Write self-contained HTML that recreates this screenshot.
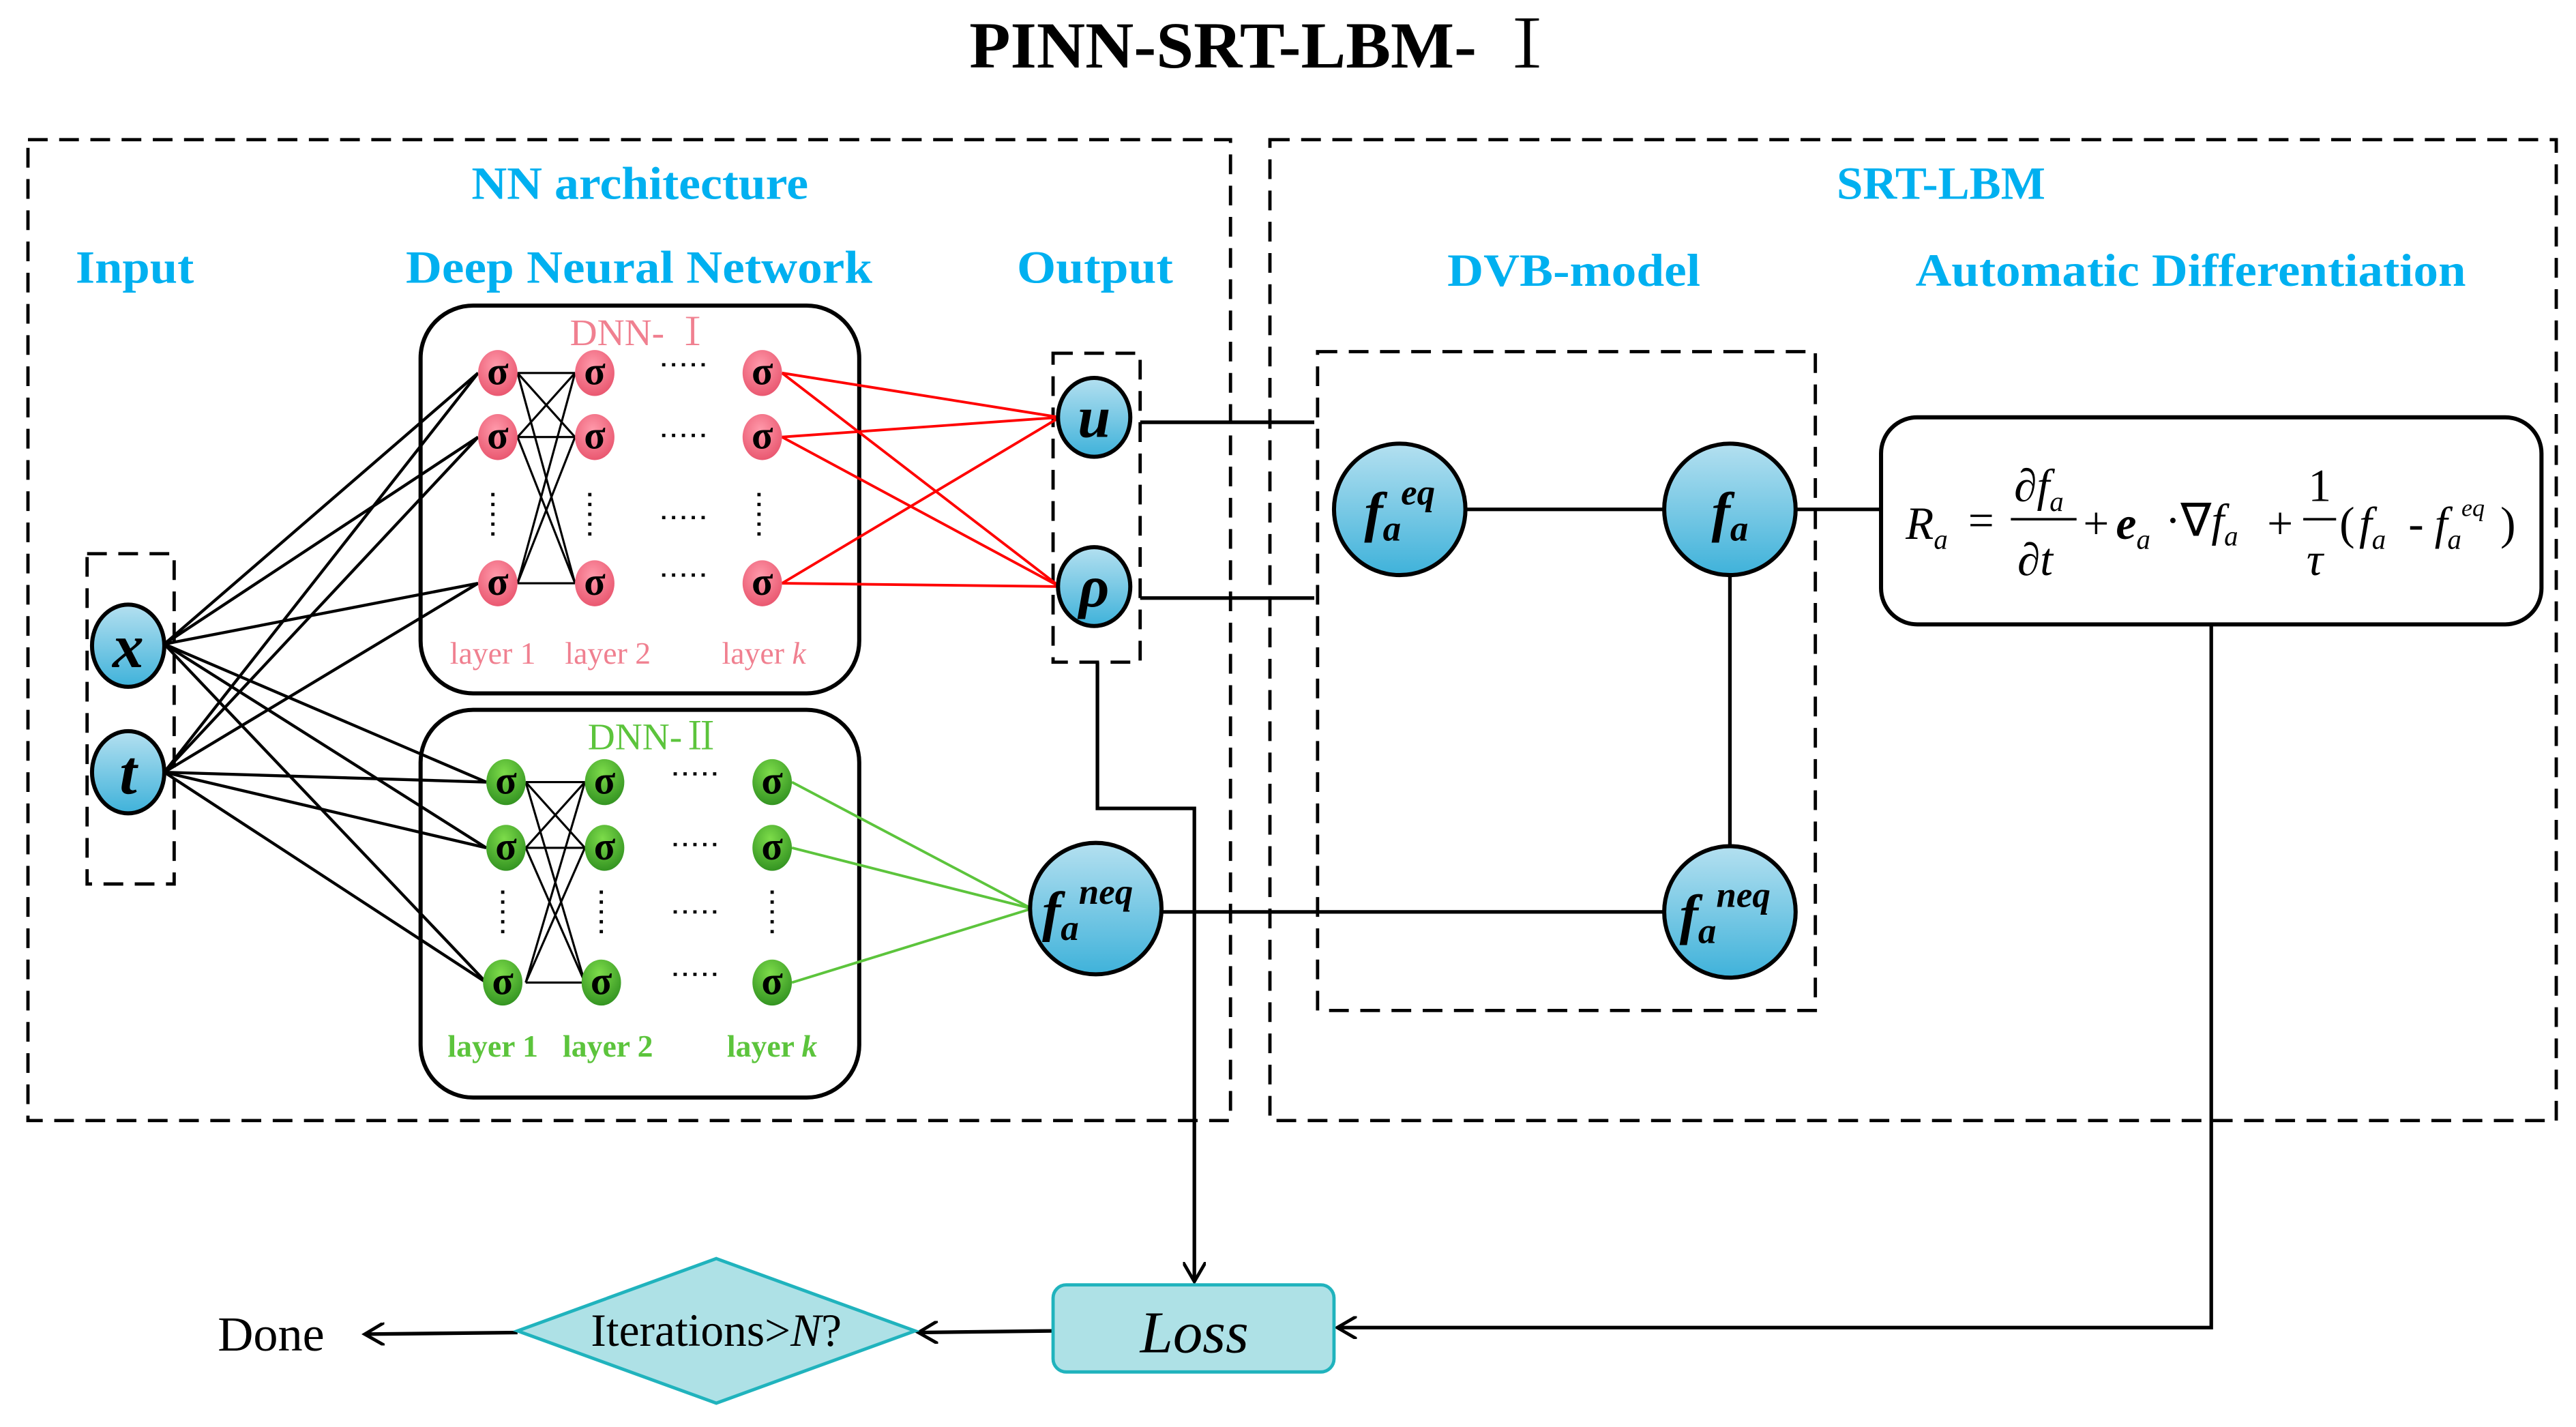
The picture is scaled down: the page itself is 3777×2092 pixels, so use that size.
<!DOCTYPE html>
<html><head><meta charset="utf-8"><style>html,body{margin:0;padding:0;background:#fff}svg{display:block}</style></head>
<body>
<svg width="3777" height="2092" viewBox="0 0 1568 868.5" xmlns="http://www.w3.org/2000/svg" font-family="'Liberation Serif', serif">
<defs>
<linearGradient id="bl" x1="0" y1="0" x2="0" y2="1"><stop offset="0" stop-color="#b4e0f0"/><stop offset="1" stop-color="#3fb2da"/></linearGradient>
<radialGradient id="pk" cx="0.45" cy="0.35" r="0.7"><stop offset="0" stop-color="#ff9aab"/><stop offset="1" stop-color="#e8536c"/></radialGradient>
<radialGradient id="gr" cx="0.45" cy="0.3" r="0.75"><stop offset="0" stop-color="#7ddc4a"/><stop offset="1" stop-color="#2f8f1f"/></radialGradient>
<marker id="ar" markerWidth="14" markerHeight="14" refX="12" refY="7" orient="auto" markerUnits="userSpaceOnUse"><path d="M0,0 L12,7 L0,14" fill="none" stroke="#000" stroke-width="2"/></marker>
</defs>
<text x="590" y="41" textLength="360" lengthAdjust="spacingAndGlyphs" font-size="40" font-weight="bold">PINN-SRT-LBM- <tspan font-family="'Noto Serif CJK SC', serif" font-weight="normal">Ⅰ</tspan></text>
<g fill="none" stroke="#000" stroke-width="2" stroke-dasharray="12,7">
<rect x="17" y="85" width="732" height="597"/>
<rect x="773" y="85" width="783" height="597"/>
<rect x="53" y="337" width="53" height="201"/>
<rect x="641" y="215" width="53" height="188"/>
<rect x="802" y="214" width="303" height="401"/>
</g>
<g fill="#00b0f0" font-weight="bold" font-size="28">
<text x="287" y="121" textLength="205" lengthAdjust="spacingAndGlyphs">NN architecture</text>
<text x="46" y="172" textLength="72" lengthAdjust="spacingAndGlyphs">Input</text>
<text x="247" y="172" textLength="284" lengthAdjust="spacingAndGlyphs">Deep Neural Network</text>
<text x="619" y="172" textLength="95" lengthAdjust="spacingAndGlyphs">Output</text>
<text x="1118" y="121" textLength="127" lengthAdjust="spacingAndGlyphs">SRT-LBM</text>
<text x="881" y="174" textLength="154" lengthAdjust="spacingAndGlyphs">DVB-model</text>
<text x="1166" y="174" textLength="335" lengthAdjust="spacingAndGlyphs">Automatic Differentiation</text>
</g>
<rect x="256" y="186" width="267" height="236" rx="32" fill="none" stroke="#000" stroke-width="2.5"/>
<rect x="256" y="432" width="267" height="236" rx="32" fill="none" stroke="#000" stroke-width="2.5"/>
<text x="390" y="210" text-anchor="middle" font-size="23" fill="#f08090">DNN- <tspan font-family="'Noto Serif CJK SC', serif">Ⅰ</tspan></text>
<text x="398" y="456" text-anchor="middle" font-size="23" fill="#5cc43c">DNN-<tspan font-family="'Noto Serif CJK SC', serif">Ⅱ</tspan></text>
<g font-size="19" fill="#f08090" text-anchor="middle"><text x="300" y="404">layer 1</text><text x="370" y="404">layer 2</text><text x="465" y="404">layer <tspan font-style="italic">k</tspan></text></g>
<g font-size="19" fill="#5cc43c" text-anchor="middle" font-weight="bold"><text x="300" y="643">layer 1</text><text x="370" y="643">layer 2</text><text x="470" y="643">layer <tspan font-style="italic">k</tspan></text></g>
<g stroke="#000" stroke-width="1.8">
<line x1="100" y1="392" x2="291" y2="227"/><line x1="100" y1="392" x2="291" y2="266"/><line x1="100" y1="392" x2="291" y2="355"/>
<line x1="100" y1="392" x2="296" y2="476"/><line x1="100" y1="392" x2="296" y2="516"/><line x1="100" y1="392" x2="296" y2="598"/>
<line x1="100" y1="470" x2="291" y2="227"/><line x1="100" y1="470" x2="291" y2="266"/><line x1="100" y1="470" x2="291" y2="355"/>
<line x1="100" y1="470" x2="296" y2="476"/><line x1="100" y1="470" x2="296" y2="516"/><line x1="100" y1="470" x2="296" y2="598"/>
</g>
<g stroke="#000" stroke-width="1.3">
<line x1="315" y1="227" x2="350" y2="227"/><line x1="315" y1="227" x2="350" y2="266"/><line x1="315" y1="227" x2="350" y2="355"/>
<line x1="315" y1="266" x2="350" y2="227"/><line x1="315" y1="266" x2="350" y2="266"/><line x1="315" y1="266" x2="350" y2="355"/>
<line x1="315" y1="355" x2="350" y2="227"/><line x1="315" y1="355" x2="350" y2="266"/><line x1="315" y1="355" x2="350" y2="355"/>
<line x1="320" y1="476" x2="356" y2="476"/><line x1="320" y1="476" x2="356" y2="516"/><line x1="320" y1="476" x2="356" y2="598"/>
<line x1="320" y1="516" x2="356" y2="476"/><line x1="320" y1="516" x2="356" y2="516"/><line x1="320" y1="516" x2="356" y2="598"/>
<line x1="320" y1="598" x2="356" y2="476"/><line x1="320" y1="598" x2="356" y2="516"/><line x1="320" y1="598" x2="356" y2="598"/>
</g>
<g stroke="#f00" stroke-width="1.6">
<line x1="476" y1="227" x2="645" y2="254"/><line x1="476" y1="227" x2="645" y2="357"/>
<line x1="476" y1="266" x2="645" y2="254"/><line x1="476" y1="266" x2="645" y2="357"/>
<line x1="476" y1="355" x2="645" y2="254"/><line x1="476" y1="355" x2="645" y2="357"/>
</g>
<g stroke="#5cc43c" stroke-width="1.6">
<line x1="482" y1="476" x2="628" y2="553"/><line x1="482" y1="516" x2="628" y2="553"/><line x1="482" y1="598" x2="628" y2="553"/>
</g>
<g stroke="#000" stroke-width="2" stroke-dasharray="2,4">
<line x1="300" y1="300" x2="300" y2="328"/><line x1="359" y1="300" x2="359" y2="328"/><line x1="462" y1="300" x2="462" y2="328"/>
<line x1="306" y1="542" x2="306" y2="568"/><line x1="366" y1="542" x2="366" y2="568"/><line x1="470" y1="542" x2="470" y2="568"/>
<line x1="403" y1="222" x2="430" y2="222"/><line x1="403" y1="265" x2="430" y2="265"/><line x1="403" y1="315" x2="430" y2="315"/><line x1="403" y1="350" x2="430" y2="350"/>
<line x1="410" y1="471" x2="436" y2="471"/><line x1="410" y1="514" x2="436" y2="514"/><line x1="410" y1="555" x2="436" y2="555"/><line x1="410" y1="593" x2="436" y2="593"/>
</g>
<g font-size="24" font-weight="bold" text-anchor="middle">
<g fill="url(#pk)"><ellipse cx="303" cy="227" rx="12" ry="14"/><ellipse cx="303" cy="266" rx="12" ry="14"/><ellipse cx="303" cy="355" rx="12" ry="14"/><ellipse cx="362" cy="227" rx="12" ry="14"/><ellipse cx="362" cy="266" rx="12" ry="14"/><ellipse cx="362" cy="355" rx="12" ry="14"/><ellipse cx="464" cy="227" rx="12" ry="14"/><ellipse cx="464" cy="266" rx="12" ry="14"/><ellipse cx="464" cy="355" rx="12" ry="14"/></g>
<g fill="url(#gr)"><ellipse cx="308" cy="476" rx="12" ry="14"/><ellipse cx="308" cy="516" rx="12" ry="14"/><ellipse cx="306" cy="598" rx="12" ry="14"/><ellipse cx="368" cy="476" rx="12" ry="14"/><ellipse cx="368" cy="516" rx="12" ry="14"/><ellipse cx="366" cy="598" rx="12" ry="14"/><ellipse cx="470" cy="476" rx="12" ry="14"/><ellipse cx="470" cy="516" rx="12" ry="14"/><ellipse cx="470" cy="598" rx="12" ry="14"/></g>
<text x="303" y="234">σ</text><text x="303" y="273">σ</text><text x="303" y="362">σ</text><text x="362" y="234">σ</text><text x="362" y="273">σ</text><text x="362" y="362">σ</text><text x="464" y="234">σ</text><text x="464" y="273">σ</text><text x="464" y="362">σ</text>
<text x="308" y="483">σ</text><text x="308" y="523">σ</text><text x="306" y="605">σ</text><text x="368" y="483">σ</text><text x="368" y="523">σ</text><text x="366" y="605">σ</text><text x="470" y="483">σ</text><text x="470" y="523">σ</text><text x="470" y="605">σ</text>
</g>
<g stroke="#000" stroke-width="2.2" fill="none">
<polyline points="694,257 800,257"/><polyline points="694,364 800,364"/>
<line x1="892" y1="310" x2="1013" y2="310"/>
<line x1="1093" y1="310" x2="1145" y2="310"/>
<line x1="1053" y1="350" x2="1053" y2="515"/>
<line x1="707" y1="555" x2="1013" y2="555"/>
<polyline points="668,403 668,492 727,492 727,780" marker-end="url(#ar)"/>
<polyline points="1346,380 1346,808 814,808" marker-end="url(#ar)"/>
<line x1="641" y1="810" x2="559" y2="811" marker-end="url(#ar)"/>
<line x1="315" y1="811" x2="222" y2="812" marker-end="url(#ar)"/>
</g>
<g fill="url(#bl)" stroke="#000" stroke-width="2.5">
<ellipse cx="78" cy="393" rx="22" ry="25"/><ellipse cx="78" cy="470" rx="22" ry="25"/>
<ellipse cx="666" cy="254" rx="22" ry="24"/><ellipse cx="666" cy="357" rx="22" ry="24"/>
<ellipse cx="667" cy="553" rx="40" ry="40"/>
<ellipse cx="852" cy="310" rx="40" ry="40"/><ellipse cx="1053" cy="310" rx="40" ry="40"/><ellipse cx="1053" cy="555" rx="40" ry="40"/>
</g>
<g font-style="italic" text-anchor="middle" font-weight="bold">
<text x="78" y="406" font-size="38">x</text><text x="78" y="483" font-size="38">t</text>
<text x="666" y="266" font-size="36">u</text><text x="666" y="369" font-size="36">ρ</text>
<text x="662" y="566" font-size="34">f<tspan font-size="22" dy="6">a</tspan><tspan font-size="22" dy="-22">neq</tspan></text>
<text x="852" y="323" font-size="34">f<tspan font-size="22" dy="6">a</tspan><tspan font-size="22" dy="-22">eq</tspan></text>
<text x="1053" y="323" font-size="34">f<tspan font-size="22" dy="6">a</tspan></text>
<text x="1050" y="568" font-size="34">f<tspan font-size="22" dy="6">a</tspan><tspan font-size="22" dy="-22">neq</tspan></text>
</g>
<rect x="1145" y="254" width="402" height="126" rx="22" fill="#fff" stroke="#000" stroke-width="2.5"/>
<g font-size="28" font-style="italic">
<text x="1160" y="328">R<tspan font-size="17" dy="6">a</tspan></text>
<text x="1198" y="326" font-style="normal">=</text>
<text x="1226" y="305">∂f<tspan font-size="17" dy="6">a</tspan></text>
<line x1="1224" y1="316" x2="1264" y2="316" stroke="#000" stroke-width="1.5"/>
<text x="1228" y="350">∂t</text>
<text x="1268" y="328" font-style="normal">+</text>
<text x="1288" y="328" font-weight="bold">e<tspan font-size="17" dy="6" font-weight="normal">a</tspan></text>
<text x="1318" y="326" font-style="normal">·∇<tspan font-style="italic">f</tspan><tspan font-size="17" dy="6" font-style="italic">a</tspan></text>
<text x="1380" y="328" font-style="normal">+</text>
<text x="1405" y="305" font-style="normal">1</text>
<line x1="1402" y1="316" x2="1422" y2="316" stroke="#000" stroke-width="1.5"/>
<text x="1404" y="350">τ</text>
<text x="1424" y="328" font-style="normal">(</text>
<text x="1436" y="328">f<tspan font-size="17" dy="6">a</tspan></text>
<text x="1466" y="328" font-style="normal">-</text>
<text x="1482" y="328">f<tspan font-size="17" dy="6">a</tspan><tspan font-size="15" dy="-20">eq</tspan></text>
<text x="1522" y="328" font-style="normal">)</text>
</g>
<rect x="641" y="782" width="171" height="53" rx="8" fill="#aee1e6" stroke="#20b3bd" stroke-width="2"/>
<text x="727" y="823" text-anchor="middle" font-size="36" font-style="italic">Loss</text>
<polygon points="436,766 557,810 436,854 315,810" fill="#aee1e6" stroke="#20b3bd" stroke-width="2"/>
<text x="436" y="819" text-anchor="middle" font-size="28">Iterations&gt;<tspan font-style="italic">N</tspan>?</text>
<text x="165" y="822" text-anchor="middle" font-size="30">Done</text>
</svg>
</body></html>
